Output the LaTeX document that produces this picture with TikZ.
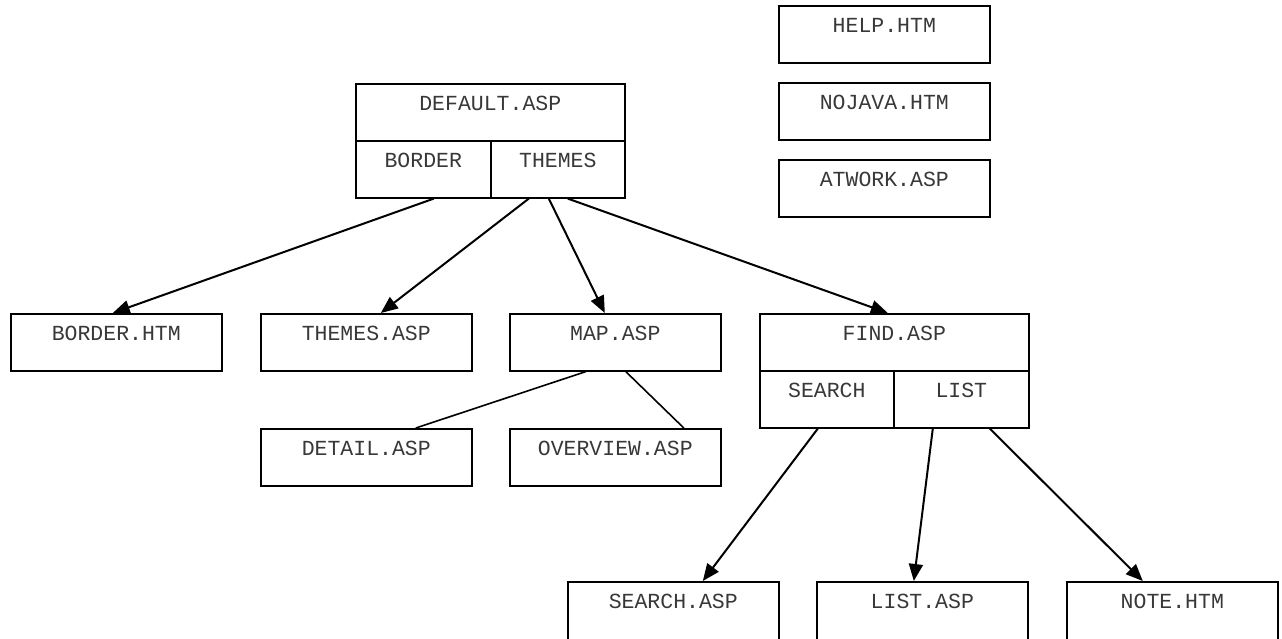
\documentclass[tikz,border=0pt]{standalone}
\usepackage{fontspec}
\setmonofont{Liberation Mono}
\usetikzlibrary{arrows.meta}
\begin{document}
\begin{tikzpicture}[x=1pt,y=-1pt,
  box/.style={draw, line width=1.6pt, inner xsep=0pt, inner ysep=0pt,
    text height=26.5pt, text depth=30.5pt, minimum height=57pt,
    minimum width=211pt, anchor=north west, text=black!78,
    font=\fontsize{21.5}{24}\selectfont\ttfamily},
  wide/.style={minimum width=269pt},
  cellL/.style={minimum width=135pt},
  cellR/.style={minimum width=134pt},
  open/.style={text depth=34pt, minimum height=60.5pt},
  arr/.style={line width=2pt, -{Triangle[length=17pt,width=14pt]}},
  plain/.style={line width=1.6pt}]
\useasboundingbox (0,0) rectangle (1282,638);
% top right boxes
\node[box] (help) at (778,5) {HELP.HTM};
\node[box] (nojava) at (778,82) {NOJAVA.HTM};
\node[box] (atwork) at (778,159) {ATWORK.ASP};
% default
\node[box,wide] (default) at (355,83) {DEFAULT.ASP};
\node[box,cellL] (bordercell) at (355,140) {BORDER};
\node[box,cellR] (themescell) at (490,140) {THEMES};
% second row
\node[box] (borderhtm) at (10,313) {BORDER.HTM};
\node[box] (themesasp) at (260,313) {THEMES.ASP};
\node[box] (mapasp) at (509,313) {MAP.ASP};
\node[box,wide] (findasp) at (759,313) {FIND.ASP};
\node[box,cellR] (searchcell) at (759,370) {SEARCH};
\node[box,cellL] (listcell) at (893,370) {LIST};
% third row
\node[box] (detail) at (260,428) {DETAIL.ASP};
\node[box] (overview) at (509,428) {OVERVIEW.ASP};
% bottom row
\node[box,open] (searchasp) at (567,581) {SEARCH.ASP};
\node[box,open] (listasp) at (816,581) {LIST.ASP};
\node[box,open] (notehtm) at (1066,581) {NOTE.HTM};
% arrows
\draw[arr] ([xshift=10.5pt]bordercell.south) -- ([xshift=-3.5pt]borderhtm.north);
\draw[arr] ([xshift=-29pt]themescell.south) -- ([xshift=14.5pt]themesasp.north);
\draw[arr] ([xshift=-9pt]themescell.south) -- ([xshift=-10.5pt]mapasp.north);
\draw[arr] ([xshift=10pt]themescell.south) -- ([xshift=-6.5pt]findasp.north);
\draw[arr] ([xshift=-9pt]searchcell.south) -- ([xshift=29.5pt]searchasp.north);
\draw[arr] ([xshift=-28.5pt]listcell.south) -- ([xshift=-8.5pt]listasp.north);
\draw[arr] ([xshift=28.5pt]listcell.south) -- ([xshift=-29.5pt]notehtm.north);
% plain lines
\draw[plain] ([xshift=-29.5pt]mapasp.south) -- ([xshift=49.5pt]detail.north);
\draw[plain] ([xshift=10.5pt]mapasp.south) -- ([xshift=68.5pt]overview.north);
\end{tikzpicture}
\end{document}
